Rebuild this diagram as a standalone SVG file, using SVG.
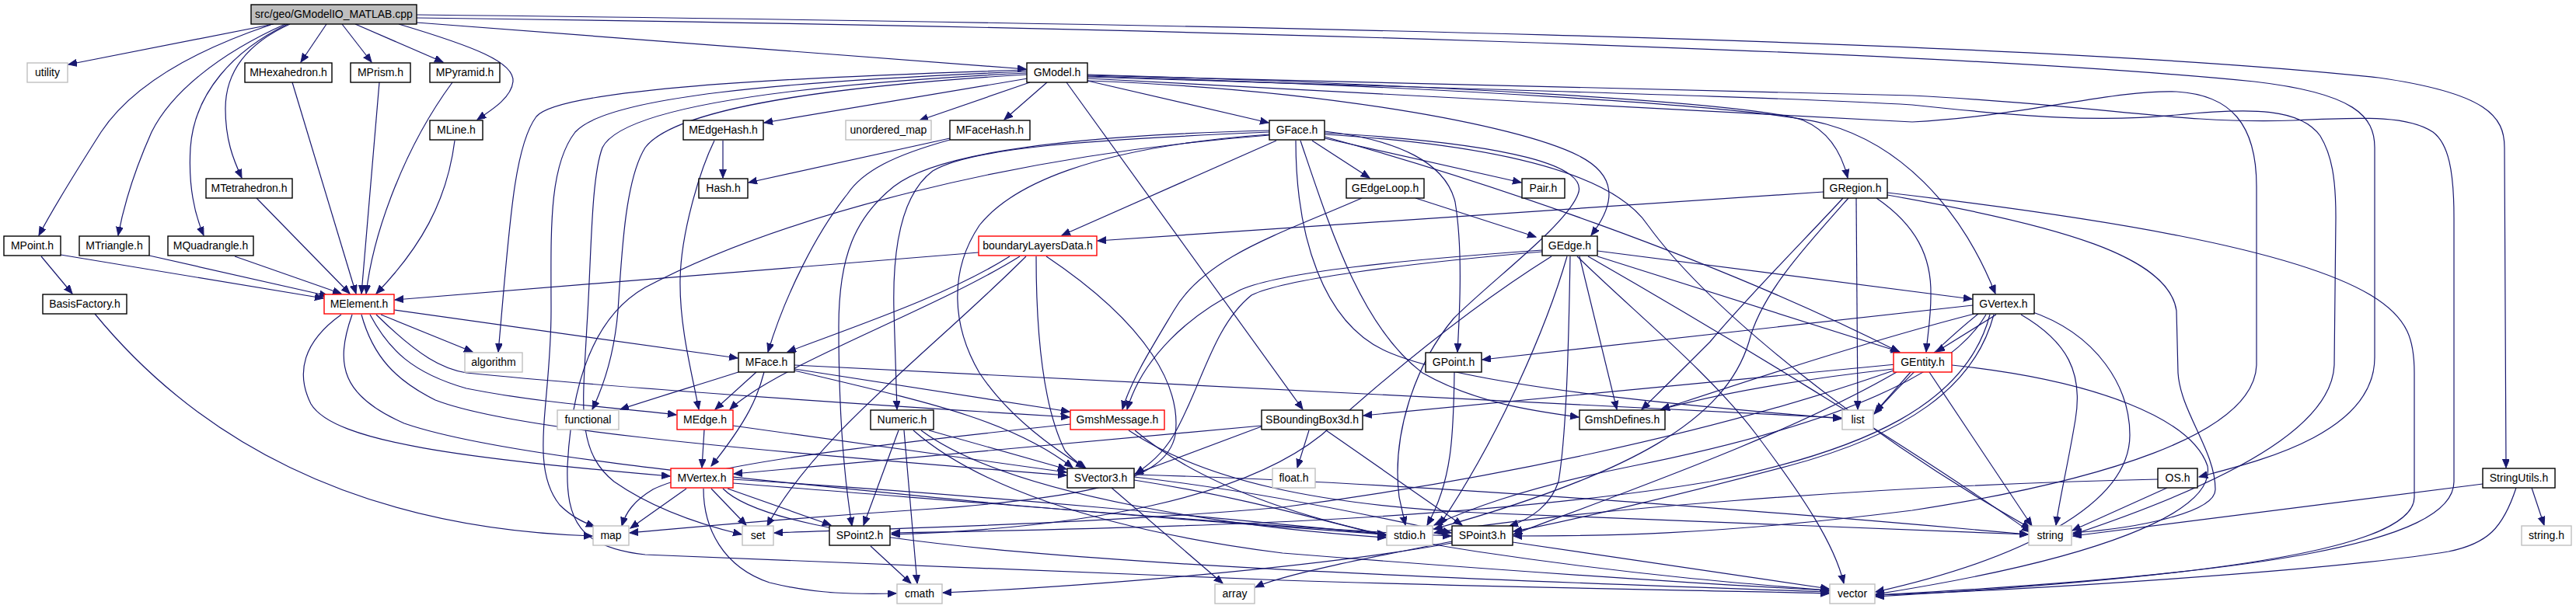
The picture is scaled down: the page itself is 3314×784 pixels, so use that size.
<svg xmlns="http://www.w3.org/2000/svg" width="3314" height="784" viewBox="0 0 3314 784">
<style>
.e{fill:none;stroke:#191970;stroke-width:1.2}
.n rect{fill:#fff;stroke:#000;stroke-width:1.4}
.g rect{fill:#fff;stroke:#bfbfbf;stroke-width:1.4}
.r rect{fill:#fff;stroke:#ff0000;stroke-width:1.4}
.c rect{fill:#bfbfbf;stroke:#000;stroke-width:1.4}
text{font-family:"Liberation Sans",Arial,Helvetica,sans-serif;font-size:14px;text-anchor:middle;fill:#000}
</style>
<defs>
<marker id="a" markerWidth="12" markerHeight="10" refX="11" refY="4.5" orient="auto" markerUnits="userSpaceOnUse"><path d="M0,0 L11,4.5 L0,9 z" fill="#191970" stroke="#191970" stroke-width="1"/></marker>
</defs>
<rect width="3314" height="784" fill="#fff"/>
<g id="connectors" marker-end="url(#a)">
<path class="e" marker-end="url(#a)" d="M352,31 L88,83"/>
<path class="e" marker-end="url(#a)" d="M420,31 L387,80"/>
<path class="e" marker-end="url(#a)" d="M440,31 L478,80"/>
<path class="e" marker-end="url(#a)" d="M457,31 L570,80"/>
<path class="e" marker-end="url(#a)" d="M513,31 C610,60 662,80 660,105 C658,125 635,140 614,154"/>
<path class="e" marker-end="url(#a)" d="M373,31 C320,55 290,90 290,140 C290,180 300,205 311,229"/>
<path class="e" marker-end="url(#a)" d="M370,31 C300,65 250,120 245,190 C242,240 250,275 262,303"/>
<path class="e" marker-end="url(#a)" d="M367,31 C280,70 220,120 195,170 C175,215 160,260 152,303"/>
<path class="e" marker-end="url(#a)" d="M348,32 C250,65 170,110 130,170 C95,225 70,265 50,303"/>
<path class="e" marker-end="url(#a)" d="M536,29 L1320,89"/>
<path class="e" marker-end="url(#a)" d="M536,19 C1500,30 2600,50 3060,100 C3200,120 3222,150 3222,190 L3224,602"/>
<path class="e" marker-end="url(#a)" d="M536,23 C1500,35 2500,65 2900,105 C3030,120 3055,150 3055,190 L3055,460 C3055,560 2900,595 2829,614"/>
<path class="e" marker-end="url(#a)" d="M53,330 L93,378"/>
<path class="e" marker-end="url(#a)" d="M78,328 L416,384"/>
<path class="e" marker-end="url(#a)" d="M192,329 L422,381"/>
<path class="e" marker-end="url(#a)" d="M302,330 L439,378"/>
<path class="e" marker-end="url(#a)" d="M330,255 L450,378"/>
<path class="e" marker-end="url(#a)" d="M376,106 L458,378"/>
<path class="e" marker-end="url(#a)" d="M488,106 L465,378"/>
<path class="e" marker-end="url(#a)" d="M582,106 C520,190 480,300 471,378"/>
<path class="e" marker-end="url(#a)" d="M585,181 C575,260 540,320 484,378"/>
<path class="e" marker-end="url(#a)" d="M1259,325 L508,386"/>
<path class="e" marker-end="url(#a)" d="M122,404 C250,560 450,680 762,690"/>
<path class="e" marker-end="url(#a)" d="M1322,101 L983,158"/>
<path class="e" marker-end="url(#a)" d="M1325,106 L1183,155"/>
<path class="e" marker-end="url(#a)" d="M1347,106 L1292,154"/>
<path class="e" marker-end="url(#a)" d="M1399,104 L1632,158"/>
<path class="e" marker-end="url(#a)" d="M1372,106 L1676,527"/>
<path class="e" marker-end="url(#a)" d="M1321,90 C1000,100 720,115 690,150 C660,190 655,300 641,453"/>
<path class="e" marker-end="url(#a)" d="M1321,92 C1000,105 780,125 740,170 C705,215 709,300 709,400 C709,520 680,600 720,650 C735,665 750,672 765,678"/>
<path class="e" marker-end="url(#a)" d="M1321,94 C1000,110 800,140 775,190 C760,230 761,330 755,420 C750,520 740,580 790,620 C840,655 900,675 954,688"/>
<path class="e" marker-end="url(#a)" d="M1321,96 C1000,115 860,150 830,190 C805,230 800,320 795,400 C790,460 775,500 762,527"/>
<path class="e" marker-end="url(#a)" d="M1399,104 C1700,115 1950,160 2030,200 C2080,225 2080,260 2047,303"/>
<path class="e" marker-end="url(#a)" d="M1399,96 C1800,108 2250,130 2320,155 C2355,170 2370,200 2377,229"/>
<path class="e" marker-end="url(#a)" d="M1399,98 C1800,110 2260,135 2350,160 C2440,185 2520,260 2567,378"/>
<path class="e" marker-end="url(#a)" d="M1399,99 C1900,115 2300,125 2460,135 C2600,150 2700,158 2800,148 C2900,138 2960,140 2985,175 C3000,200 3005,230 3005,280 L3003,470 C3000,540 2900,610 2667,688"/>
<path class="e" marker-end="url(#a)" d="M1399,97 C1900,110 2300,118 2460,123 C2700,135 2800,160 2950,155 C3050,150 3100,150 3130,170 C3150,185 3157,220 3157,280 L3157,620 C3157,700 2900,740 2413,766"/>
<path class="e" marker-end="url(#a)" d="M1399,101 C1900,125 2300,150 2460,157 C2600,150 2720,115 2800,118 C2870,122 2903,160 2903,240 L2903,470 C2900,560 2700,620 2460,657 C2200,690 2050,690 1947,690"/>
<path class="e" marker-end="url(#a)" d="M1688,181 L1762,229"/>
<path class="e" marker-end="url(#a)" d="M1704,178 L1957,235"/>
<path class="e" marker-end="url(#a)" d="M1642,181 L1366,303"/>
<path class="e" marker-end="url(#a)" d="M1704,169 C1800,180 1860,210 1872,260 C1882,320 1878,400 1875,453"/>
<path class="e" marker-end="url(#a)" d="M1673,181 C1710,290 1750,420 1830,480 C1900,520 1980,530 2031,537"/>
<path class="e" marker-end="url(#a)" d="M1667,181 C1667,300 1700,420 1790,455 C1900,500 2200,525 2369,539"/>
<path class="e" marker-end="url(#a)" d="M1704,176 C1900,230 2200,330 2443,453"/>
<path class="e" marker-end="url(#a)" d="M1633,168 C1350,175 1200,200 1150,240 C1100,280 1079,330 1079,420 C1079,560 1090,640 1096,677"/>
<path class="e" marker-end="url(#a)" d="M1633,170 C1400,180 1250,190 1200,220 C1160,250 1148,320 1150,400 L1154,527"/>
<path class="e" marker-end="url(#a)" d="M1633,173 C1400,190 1300,240 1260,290 C1220,350 1225,420 1260,480 C1300,540 1360,580 1395,602"/>
<path class="e" marker-end="url(#a)" d="M1633,174 C1300,200 1000,280 830,370 C760,410 735,500 730,600 C728,670 745,705 830,714 L1650,747 C1950,757 2200,760 2353,764"/>
<path class="e" marker-end="url(#a)" d="M1704,171 C1950,185 2045,215 2030,250 C2015,290 1920,360 1870,410 C1820,470 1790,560 1800,640 L1808,676"/>
<path class="e" marker-end="url(#a)" d="M1704,173 C1950,188 2080,230 2120,290 C2200,400 2400,560 2612,680"/>
<path class="e" marker-end="url(#a)" d="M2032,330 L2080,527"/>
<path class="e" marker-end="url(#a)" d="M2055,323 L2537,385"/>
<path class="e" marker-end="url(#a)" d="M2055,330 L2444,453"/>
<path class="e" marker-end="url(#a)" d="M2020,330 C2018,450 2015,560 2005,620 C1995,650 1970,668 1942,677"/>
<path class="e" marker-end="url(#a)" d="M2016,330 C1990,420 1930,560 1852,676"/>
<path class="e" marker-end="url(#a)" d="M2029,330 C2100,400 2200,480 2260,560 C2320,640 2360,700 2372,751"/>
<path class="e" marker-end="url(#a)" d="M2043,330 C2200,420 2450,570 2612,685"/>
<path class="e" marker-end="url(#a)" d="M1984,322 C1800,335 1650,350 1596,373 C1530,405 1470,460 1450,527"/>
<path class="e" marker-end="url(#a)" d="M1984,324 C1800,340 1650,360 1610,380 C1560,420 1545,500 1510,560 C1495,585 1478,598 1461,610"/>
<path class="e" marker-end="url(#a)" d="M1996,330 C1900,390 1800,470 1700,560 C1600,640 1400,680 1147,688"/>
<path class="e" marker-end="url(#a)" d="M1821,255 L1976,305"/>
<path class="e" marker-end="url(#a)" d="M1752,255 C1650,300 1550,330 1510,400 C1480,450 1455,490 1444,527"/>
<path class="e" marker-end="url(#a)" d="M2346,247 L1412,310"/>
<path class="e" marker-end="url(#a)" d="M2414,255 C2465,290 2485,330 2484,380 C2484,410 2480,430 2478,453"/>
<path class="e" marker-end="url(#a)" d="M2388,255 L2390,527"/>
<path class="e" marker-end="url(#a)" d="M2371,255 C2330,300 2250,380 2200,440 C2160,480 2135,505 2112,527"/>
<path class="e" marker-end="url(#a)" d="M2378,255 C2320,320 2265,380 2250,440 C2220,540 2100,610 1845,681"/>
<path class="e" marker-end="url(#a)" d="M2428,251 C2650,290 2790,330 2800,400 L2802,480 C2805,530 2850,580 2850,630 C2850,660 2750,680 2667,686"/>
<path class="e" marker-end="url(#a)" d="M2428,248 C2700,280 2950,320 3050,380 C3100,410 3106,440 3106,480 L3106,640 C3106,700 2900,740 2413,768"/>
<path class="e" marker-end="url(#a)" d="M2568,405 L2491,453"/>
<path class="e" marker-end="url(#a)" d="M2538,393 L1907,463"/>
<path class="e" marker-end="url(#a)" d="M2540,404 C2400,440 2250,490 2137,527"/>
<path class="e" marker-end="url(#a)" d="M2545,404 C2500,440 2440,500 2411,533"/>
<path class="e" marker-end="url(#a)" d="M2600,405 C2660,440 2680,480 2670,540 C2660,600 2650,640 2645,676"/>
<path class="e" marker-end="url(#a)" d="M2565,405 C2540,500 2450,560 2300,600 C2150,640 2000,675 1947,684"/>
<path class="e" marker-end="url(#a)" d="M2560,405 C2530,520 2400,580 2200,620 C1900,670 1500,680 1147,686"/>
<path class="e" marker-end="url(#a)" d="M2555,405 C2500,500 2300,560 2100,600 C1950,630 1880,660 1845,676"/>
<path class="e" marker-end="url(#a)" d="M2610,400 C2700,430 2740,500 2740,560 C2740,650 2600,720 2413,762"/>
<path class="e" marker-end="url(#a)" d="M2511,470 C2700,490 2820,540 2840,600 C2850,660 2700,720 2413,765"/>
<path class="e" marker-end="url(#a)" d="M2439,469 L1754,535"/>
<path class="e" marker-end="url(#a)" d="M2458,479 L2413,530"/>
<path class="e" marker-end="url(#a)" d="M2482,479 L2614,677"/>
<path class="e" marker-end="url(#a)" d="M2436,475 C2300,490 2200,510 2137,527"/>
<path class="e" marker-end="url(#a)" d="M2440,479 C2300,560 2100,630 1947,688"/>
<path class="e" marker-end="url(#a)" d="M2436,477 C2200,560 1900,620 1650,653 C1400,675 1150,680 996,686"/>
<path class="e" marker-end="url(#a)" d="M1299,330 C1220,380 1100,420 1013,453"/>
<path class="e" marker-end="url(#a)" d="M1312,330 C1200,400 1000,470 939,527"/>
<path class="e" marker-end="url(#a)" d="M1320,330 C1200,450 1050,560 987,677"/>
<path class="e" marker-end="url(#a)" d="M1333,330 C1333,420 1340,520 1370,580 C1380,592 1390,598 1397,603"/>
<path class="e" marker-end="url(#a)" d="M1346,330 C1480,420 1520,500 1512,560 C1500,620 1400,640 1200,655 C1000,668 900,678 810,686"/>
<path class="e" marker-end="url(#a)" d="M930,181 L930,229"/>
<path class="e" marker-end="url(#a)" d="M919,181 C900,220 876,300 875,360 C874,420 890,480 899,527"/>
<path class="e" marker-end="url(#a)" d="M1222,178 L963,235"/>
<path class="e" marker-end="url(#a)" d="M1222,180 C1150,200 1110,220 1090,250 C1050,300 1010,380 988,453"/>
<path class="e" marker-end="url(#a)" d="M490,405 L608,453"/>
<path class="e" marker-end="url(#a)" d="M507,399 L949,461"/>
<path class="e" marker-end="url(#a)" d="M476,405 C500,450 530,480 600,500 C700,520 800,525 870,534"/>
<path class="e" marker-end="url(#a)" d="M484,405 C540,460 570,475 600,480 C800,500 1100,520 1376,537"/>
<path class="e" marker-end="url(#a)" d="M465,405 C480,460 510,490 560,515 C650,550 900,575 1372,612"/>
<path class="e" marker-end="url(#a)" d="M439,405 C390,440 380,480 400,520 C430,570 600,590 862,613"/>
<path class="e" marker-end="url(#a)" d="M453,405 C430,470 440,510 520,545 C650,590 1000,620 1300,650 C1550,672 1700,682 1783,688"/>
<path class="e" marker-end="url(#a)" d="M973,479 L920,527"/>
<path class="e" marker-end="url(#a)" d="M983,479 C975,510 963,540 915,600"/>
<path class="e" marker-end="url(#a)" d="M950,479 C900,495 850,510 798,527"/>
<path class="e" marker-end="url(#a)" d="M1022,470 L2369,538"/>
<path class="e" marker-end="url(#a)" d="M1022,475 L1376,530"/>
<path class="e" marker-end="url(#a)" d="M1022,477 C1190,517 1300,540 1380,602"/>
<path class="e" marker-end="url(#a)" d="M906,553 L903,602"/>
<path class="e" marker-end="url(#a)" d="M943,548 L1372,608"/>
<path class="e" marker-end="url(#a)" d="M915,629 L960,676"/>
<path class="e" marker-end="url(#a)" d="M883,629 L811,680"/>
<path class="e" marker-end="url(#a)" d="M936,629 L1069,676"/>
<path class="e" marker-end="url(#a)" d="M905,629 C905,680 930,730 990,750 C1050,765 1100,765 1153,764"/>
<path class="e" marker-end="url(#a)" d="M943,617 C1300,640 1600,670 1783,688"/>
<path class="e" marker-end="url(#a)" d="M943,622 C1300,650 1650,680 1867,690"/>
<path class="e" marker-end="url(#a)" d="M930,629 C1000,700 1400,730 2353,762"/>
<path class="e" marker-end="url(#a)" d="M1430,628 L1573,751"/>
<path class="e" marker-end="url(#a)" d="M1459,614 C1600,630 1750,660 1867,686"/>
<path class="e" marker-end="url(#a)" d="M1459,618 C1600,640 1700,670 1783,690"/>
<path class="e" marker-end="url(#a)" d="M1459,611 C1800,620 2300,660 2609,688"/>
<path class="e" marker-end="url(#a)" d="M1868,699 C1700,730 1400,755 1213,763"/>
<path class="e" marker-end="url(#a)" d="M1868,697 C1750,720 1650,740 1615,756"/>
<path class="e" marker-end="url(#a)" d="M1946,698 L2353,758"/>
<path class="e" marker-end="url(#a)" d="M1120,703 L1172,751"/>
<path class="e" marker-end="url(#a)" d="M1156,554 L1111,676"/>
<path class="e" marker-end="url(#a)" d="M1163,554 L1180,751"/>
<path class="e" marker-end="url(#a)" d="M1195,554 L1372,604"/>
<path class="e" marker-end="url(#a)" d="M1175,554 C1250,620 1400,680 1650,712 C2000,740 2250,755 2353,760"/>
<path class="e" marker-end="url(#a)" d="M1185,554 C1300,640 1600,680 1783,692"/>
<path class="e" marker-end="url(#a)" d="M1377,546 C1100,575 900,600 840,630 C815,645 805,660 800,677"/>
<path class="e" marker-end="url(#a)" d="M1452,554 C1550,620 1700,650 1900,660 C2200,670 2450,682 2609,688"/>
<path class="e" marker-end="url(#a)" d="M1460,554 C1550,630 1700,680 1900,710 C2100,740 2250,752 2353,760"/>
<path class="e" marker-end="url(#a)" d="M1871,479 C1870,560 1868,620 1836,676"/>
<path class="e" marker-end="url(#a)" d="M1684,554 L1669,602"/>
<path class="e" marker-end="url(#a)" d="M1706,554 L1881,676"/>
<path class="e" marker-end="url(#a)" d="M1623,549 L1460,610"/>
<path class="e" marker-end="url(#a)" d="M1623,548 L944,610"/>
<path class="e" marker-end="url(#a)" d="M2788,628 L2666,683"/>
<path class="e" marker-end="url(#a)" d="M2776,617 C2400,625 2000,660 1845,686"/>
<path class="e" marker-end="url(#a)" d="M3194,623 L2667,690"/>
<path class="e" marker-end="url(#a)" d="M3257,628 L3273,676"/>
<path class="e" marker-end="url(#a)" d="M3237,628 C3220,680 3200,700 3150,710 C3000,735 2600,760 2413,766"/>
</g>
<g id="n_main" class="c"><rect x="323" y="6" width="213" height="25"/><text x="429.5" y="23">src/geo/GModelIO_MATLAB.cpp</text></g>
<g id="n_utility" class="g"><rect x="35" y="81" width="52" height="25"/><text x="61" y="98">utility</text></g>
<g id="n_MHexahedron" class="n"><rect x="315" y="81" width="112" height="25"/><text x="371" y="98">MHexahedron.h</text></g>
<g id="n_MPrism" class="n"><rect x="451" y="81" width="77" height="25"/><text x="489.5" y="98">MPrism.h</text></g>
<g id="n_MPyramid" class="n"><rect x="553" y="81" width="90" height="25"/><text x="598" y="98">MPyramid.h</text></g>
<g id="n_GModel" class="n"><rect x="1321" y="81" width="78" height="25"/><text x="1360" y="98">GModel.h</text></g>
<g id="n_MLine" class="n"><rect x="553" y="155" width="68" height="25"/><text x="587" y="172">MLine.h</text></g>
<g id="n_MEdgeHash" class="n"><rect x="879" y="155" width="103" height="25"/><text x="930.5" y="172">MEdgeHash.h</text></g>
<g id="n_unordered_map" class="g"><rect x="1088" y="155" width="110" height="25"/><text x="1143" y="172">unordered_map</text></g>
<g id="n_MFaceHash" class="n"><rect x="1222" y="155" width="103" height="25"/><text x="1273.5" y="172">MFaceHash.h</text></g>
<g id="n_GFace" class="n"><rect x="1633" y="155" width="71" height="25"/><text x="1668.5" y="172">GFace.h</text></g>
<g id="n_MTetrahedron" class="n"><rect x="265" y="230" width="111" height="25"/><text x="320.5" y="247">MTetrahedron.h</text></g>
<g id="n_Hash" class="n"><rect x="899" y="230" width="63" height="25"/><text x="930.5" y="247">Hash.h</text></g>
<g id="n_GEdgeLoop" class="n"><rect x="1732" y="230" width="100" height="25"/><text x="1782" y="247">GEdgeLoop.h</text></g>
<g id="n_Pair" class="n"><rect x="1958" y="230" width="55" height="25"/><text x="1985.5" y="247">Pair.h</text></g>
<g id="n_GRegion" class="n"><rect x="2346" y="230" width="82" height="25"/><text x="2387" y="247">GRegion.h</text></g>
<g id="n_MPoint" class="n"><rect x="5" y="304" width="73" height="25"/><text x="41.5" y="321">MPoint.h</text></g>
<g id="n_MTriangle" class="n"><rect x="102" y="304" width="90" height="25"/><text x="147" y="321">MTriangle.h</text></g>
<g id="n_MQuadrangle" class="n"><rect x="216" y="304" width="110" height="25"/><text x="271" y="321">MQuadrangle.h</text></g>
<g id="n_boundaryLayersData" class="r"><rect x="1259" y="304" width="152" height="25"/><text x="1335" y="321">boundaryLayersData.h</text></g>
<g id="n_GEdge" class="n"><rect x="1984" y="304" width="71" height="25"/><text x="2019.5" y="321">GEdge.h</text></g>
<g id="n_BasisFactory" class="n"><rect x="55" y="379" width="108" height="25"/><text x="109" y="396">BasisFactory.h</text></g>
<g id="n_MElement" class="r"><rect x="417" y="379" width="90" height="25"/><text x="462" y="396">MElement.h</text></g>
<g id="n_GVertex" class="n"><rect x="2538" y="379" width="79" height="25"/><text x="2577.5" y="396">GVertex.h</text></g>
<g id="n_algorithm" class="g"><rect x="598" y="454" width="74" height="25"/><text x="635" y="471">algorithm</text></g>
<g id="n_MFace" class="n"><rect x="950" y="454" width="72" height="25"/><text x="986" y="471">MFace.h</text></g>
<g id="n_GPoint" class="n"><rect x="1834" y="454" width="72" height="25"/><text x="1870" y="471">GPoint.h</text></g>
<g id="n_GEntity" class="r"><rect x="2436" y="454" width="75" height="25"/><text x="2473.5" y="471">GEntity.h</text></g>
<g id="n_functional" class="g"><rect x="717" y="528" width="79" height="25"/><text x="756.5" y="545">functional</text></g>
<g id="n_MEdge" class="r"><rect x="871" y="528" width="72" height="25"/><text x="907" y="545">MEdge.h</text></g>
<g id="n_Numeric" class="n"><rect x="1120" y="528" width="81" height="25"/><text x="1160.5" y="545">Numeric.h</text></g>
<g id="n_GmshMessage" class="r"><rect x="1377" y="528" width="121" height="25"/><text x="1437.5" y="545">GmshMessage.h</text></g>
<g id="n_SBoundingBox3d" class="n"><rect x="1623" y="528" width="130" height="25"/><text x="1688" y="545">SBoundingBox3d.h</text></g>
<g id="n_GmshDefines" class="n"><rect x="2032" y="528" width="110" height="25"/><text x="2087" y="545">GmshDefines.h</text></g>
<g id="n_list" class="g"><rect x="2370" y="528" width="40" height="25"/><text x="2390" y="545">list</text></g>
<g id="n_MVertex" class="r"><rect x="863" y="603" width="80" height="25"/><text x="903" y="620">MVertex.h</text></g>
<g id="n_SVector3" class="n"><rect x="1373" y="603" width="86" height="25"/><text x="1416" y="620">SVector3.h</text></g>
<g id="n_float" class="g"><rect x="1637" y="603" width="55" height="25"/><text x="1664.5" y="620">float.h</text></g>
<g id="n_OS" class="n"><rect x="2776" y="603" width="51" height="25"/><text x="2801.5" y="620">OS.h</text></g>
<g id="n_StringUtils" class="n"><rect x="3194" y="603" width="93" height="25"/><text x="3240.5" y="620">StringUtils.h</text></g>
<g id="n_map" class="g"><rect x="763" y="677" width="46" height="25"/><text x="786" y="694">map</text></g>
<g id="n_set" class="g"><rect x="955" y="677" width="40" height="25"/><text x="975" y="694">set</text></g>
<g id="n_SPoint2" class="n"><rect x="1067" y="677" width="78" height="25"/><text x="1106" y="694">SPoint2.h</text></g>
<g id="n_stdio" class="g"><rect x="1784" y="677" width="59" height="25"/><text x="1813.5" y="694">stdio.h</text></g>
<g id="n_SPoint3" class="n"><rect x="1868" y="677" width="78" height="25"/><text x="1907" y="694">SPoint3.h</text></g>
<g id="n_string" class="g"><rect x="2610" y="677" width="55" height="25"/><text x="2637.5" y="694">string</text></g>
<g id="n_string_h" class="g"><rect x="3244" y="677" width="64" height="25"/><text x="3276" y="694">string.h</text></g>
<g id="n_cmath" class="g"><rect x="1154" y="752" width="58" height="25"/><text x="1183" y="769">cmath</text></g>
<g id="n_array" class="g"><rect x="1563" y="752" width="51" height="25"/><text x="1588.5" y="769">array</text></g>
<g id="n_vector" class="g"><rect x="2354" y="752" width="58" height="25"/><text x="2383" y="769">vector</text></g>
</svg>
